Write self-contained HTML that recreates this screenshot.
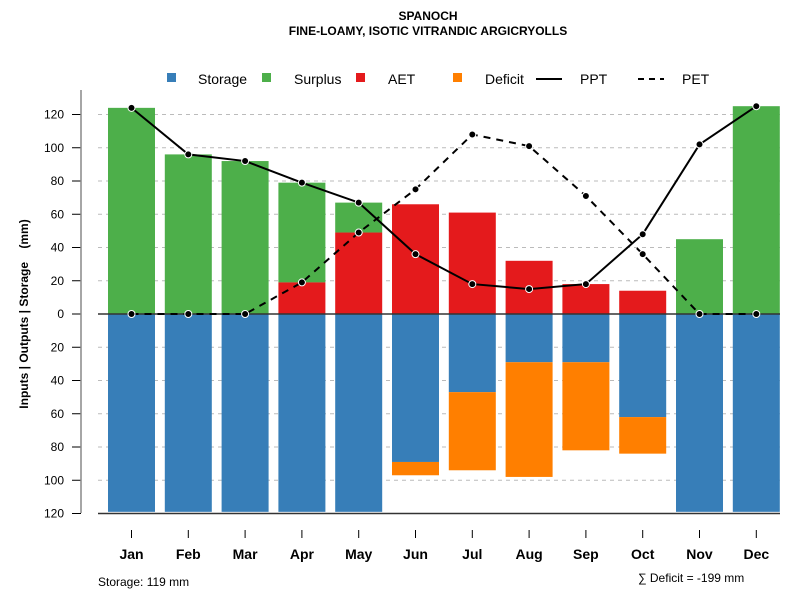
<!DOCTYPE html>
<html><head><meta charset="utf-8"><style>
body{margin:0;background:#fff;font-family:"Liberation Sans",Arial,sans-serif}
</style></head><body>
<svg id="c" width="800" height="600" xmlns="http://www.w3.org/2000/svg" font-family="Liberation Sans, Arial, sans-serif">
<text x="428" y="20" text-anchor="middle" font-size="12" font-weight="bold">SPANOCH</text>
<text x="428" y="35" text-anchor="middle" font-size="12" font-weight="bold">FINE-LOAMY, ISOTIC VITRANDIC ARGICRYOLLS</text>
<g id="legend" font-size="14">
<rect x="167" y="73" width="9" height="9" fill="#377eb8"/>
<text x="198" y="84">Storage</text>
<rect x="262" y="73" width="9" height="9" fill="#4daf4a"/>
<text x="294" y="84">Surplus</text>
<rect x="356" y="73" width="9" height="9" fill="#e41a1c"/>
<text x="388" y="84">AET</text>
<rect x="453" y="73" width="9" height="9" fill="#ff7f00"/>
<text x="485" y="84">Deficit</text>
<line x1="536" y1="79" x2="562" y2="79" stroke="#000" stroke-width="2"/>
<text x="580" y="84">PPT</text>
<line x1="638" y1="79" x2="664" y2="79" stroke="#000" stroke-width="2" stroke-dasharray="6,5"/>
<text x="682" y="84">PET</text>
</g>
<g id="grid"></g><g id="bars"></g><g id="lines"></g><g id="axes"></g>
<text transform="translate(28,314) rotate(-90)" text-anchor="middle" font-size="12" font-weight="bold" xml:space="preserve" style="white-space:pre">Inputs | Outputs | Storage    (mm)</text>
<text x="98" y="586" font-size="12">Storage: 119 mm</text>
<text x="638" y="582" font-size="12">∑ Deficit = -199 mm</text>
</svg>
<script>
const months=["Jan","Feb","Mar","Apr","May","Jun","Jul","Aug","Sep","Oct","Nov","Dec"];
const surplusTop=[124,96,92,79,67,0,0,0,0,0,45,125];
const aet=[0,0,0,19,49,66,61,32,18,14,0,0];
const storage=[119,119,119,119,119,89,47,29,29,62,119,119];
const deficit=[0,0,0,0,0,8,47,69,53,22,0,0];
const ppt=[124,96,92,79,67,36,18,15,18,48,102,125];
const pet=[0,0,0,19,49,75,108,101,71,36,0,0];
const yTicks=[120,100,80,60,40,20,0,-20,-40,-60,-80,-100,-120];
const NS="http://www.w3.org/2000/svg";
const y=v=>314-v*199.5/120;
const x=i=>131.5+i*56.8;
const BW=47;
function mk(parent,tag,attrs){const e=document.createElementNS(NS,tag);for(const k in attrs)e.setAttribute(k,attrs[k]);document.getElementById(parent).appendChild(e);return e;}
yTicks.forEach(t=>{
 const g=mk('grid','line',{x1:98,x2:780,y1:y(t),y2:y(t),stroke:'#bbb','stroke-dasharray':'4,4'});
 
 
 const tk=mk('axes','line',{x1:72,x2:81,y1:y(t),y2:y(t),stroke:'#000'});
 
 
 const tl=mk('axes','text',{x:64,y:y(t)+4,'text-anchor':'end','font-size':12});
 tl.textContent=Math.abs(t);
 
 
});
const ax=mk('axes','line',{x1:81,x2:81,y1:90,y2:513,stroke:'#888','stroke-width':1.5});


months.forEach((m,i)=>{
 const l=x(i)-BW/2;
 if(surplusTop[i]>0){const r=mk('bars','rect',{x:l,y:y(surplusTop[i]),width:BW,height:y(aet[i])-y(surplusTop[i]),fill:'#4daf4a'});
  
  }
 if(aet[i]>0){const r=mk('bars','rect',{x:l,y:y(aet[i]),width:BW,height:y(0)-y(aet[i]),fill:'#e41a1c'});
  
  }
 const s=mk('bars','rect',{x:l,y:y(0),width:BW,height:y(-storage[i])-y(0),fill:'#377eb8'});
 
 
 if(deficit[i]>0){const r=mk('bars','rect',{x:l,y:y(-storage[i]),width:BW,height:y(-storage[i]-deficit[i])-y(-storage[i]),fill:'#ff7f00'});
  
  }
 const tk=mk('axes','line',{x1:x(i),x2:x(i),y1:530,y2:538,stroke:'#000'});
 
 
 const tl=mk('axes','text',{x:x(i),y:559,'text-anchor':'middle','font-size':14,'font-weight':'bold'});
 tl.textContent=m;
 
 
});
const z=mk('bars','line',{x1:98,x2:780,y1:y(0),y2:y(0),stroke:'#333','stroke-width':1.5});


const b=mk('bars','line',{x1:98,x2:780,y1:y(-120),y2:y(-120),stroke:'#333','stroke-width':1.5});


function series2(arr,name,dash){
 const p=mk('lines','polyline',{points:arr.map((v,i)=>x(i)+','+y(v)).join(' '),fill:'none',stroke:'#000','stroke-width':2,'stroke-dasharray':dash});
 
 
 arr.forEach((v,i)=>{const c=mk('lines','circle',{cx:x(i),cy:y(v),r:3.5,fill:'#000',stroke:'#fff','stroke-width':1});
  
  });
}
series2(pet,'pet','7,6');
series2(ppt,'ppt','none');
</script>
</body></html>
